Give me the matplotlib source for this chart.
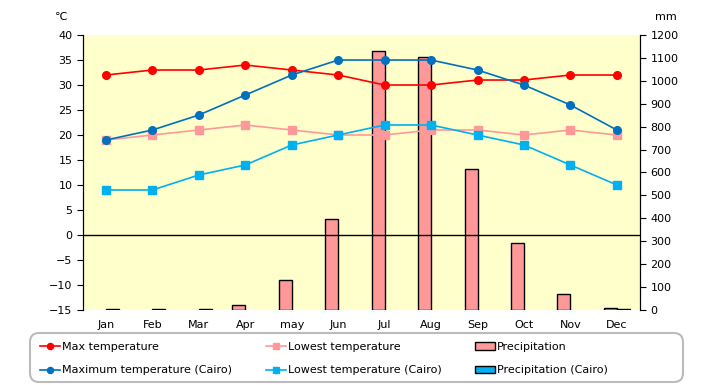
import matplotlib
matplotlib.use("Agg")
import matplotlib.pyplot as plt
from matplotlib.patches import FancyBboxPatch, Patch
import numpy as np

months = ["Jan", "Feb", "Mar", "Apr", "may", "Jun", "Jul", "Aug", "Sep", "Oct", "Nov", "Dec"]

max_temp = [32, 33, 33, 34, 33, 32, 30, 30, 31, 31, 32, 32]
low_temp = [19, 20, 21, 22, 21, 20, 20, 21, 21, 20, 21, 20]
precip = [0, 0, 0, 20, 130, 395, 1130, 1105, 615, 290, 70, 8]

max_cairo = [19, 21, 24, 28, 32, 35, 35, 35, 33, 30, 26, 21]
low_cairo = [9, 9, 12, 14, 18, 20, 22, 22, 20, 18, 14, 10]
precip_cairo = [5, 4, 4, 0, 0, 0, 0, 0, 0, 0, 0, 4]

plt.rcParams["font.family"] = ["DejaVu Sans"]
plt.rcParams["font.size"] = 8

fig = plt.figure(figsize=(7.2, 3.85), dpi=100)
ax2 = fig.add_axes([0.115, 0.195, 0.774, 0.714])
ax = ax2.twinx()
ax.yaxis.tick_left()
ax2.yaxis.tick_right()
ax.set_zorder(ax2.get_zorder() + 1)
ax.patch.set_visible(False)
ax2.set_facecolor("#FFFFCC")

x = np.arange(len(months))
w = 0.28

# precipitation bars (right axis), zero months are not drawn
b1 = ax2.bar(x - w / 2, precip, w, color="#FF9999", edgecolor="black", linewidth=1)
b2 = ax2.bar(x + w / 2, precip_cairo, w, color="#00B0F0", edgecolor="black", linewidth=1)
for bars in (b1, b2):
    for p in bars:
        if p.get_height() == 0:
            p.set_visible(False)
ax2.set_ylim(0, 1200)
ax2.set_yticks(range(0, 1201, 100))

# temperatures (left axis)
l1, = ax.plot(x, max_temp, color="#FF0000", marker="o", ms=5.5, lw=1.2)
l2, = ax.plot(x, low_temp, color="#FF9999", marker="s", ms=5.5, lw=1.2)
l3, = ax.plot(x, max_cairo, color="#0070C0", marker="o", ms=5.5, lw=1.2)
l4, = ax.plot(x, low_cairo, color="#00B0F0", marker="s", ms=5.5, lw=1.2)
ax.axhline(0, color="black", lw=1, zorder=1)
ax.set_ylim(-15, 40)
ax.set_yticks(range(-15, 41, 5))
ax.set_xlim(-0.5, 11.5)
ax.set_xticks(x)
ax.set_xticklabels(months)
ax2.set_xticks(x)
ax2.tick_params(axis="x", length=0, pad=7)
ax.tick_params(axis="x", length=0, pad=7)
ax.tick_params(axis="y", length=4, direction="out")
ax2.tick_params(axis="y", length=4, direction="out")

for a in (ax, ax2):
    a.spines["top"].set_visible(False)
    a.spines["bottom"].set_visible(False)

fig.text(0.076, 0.955, "\u2103", fontsize=8, ha="left", va="center")
fig.text(0.925, 0.955, "mm", fontsize=8, ha="center", va="center")

# legend box (rounded, drawn in pixels)
box = FancyBboxPatch((30, 3), 653, 49, boxstyle="round,pad=0,rounding_size=9",
                     transform=None, facecolor="white", edgecolor="#BBBBBB", lw=1.5)
fig.patches.append(box)

p1 = Patch(facecolor="#FF9999", edgecolor="black", linewidth=1)
p2 = Patch(facecolor="#00B0F0", edgecolor="black", linewidth=1)
handles = [l1, l3, l2, l4, p1, p2]
labels = ["Max temperature", "Maximum temperature (Cairo)",
          "Lowest temperature", "Lowest temperature (Cairo)",
          "Precipitation", "Precipitation (Cairo)"]
leg = fig.legend(handles, labels, loc="center left", bbox_to_anchor=(0.045, 0.068),
                 ncol=3, frameon=False, fontsize=8, columnspacing=3.0,
                 handlelength=1.8, handletextpad=0.2, labelspacing=1.2,
                 borderpad=0.2, markerscale=0.8)

fig.savefig("out.png", dpi=100)
